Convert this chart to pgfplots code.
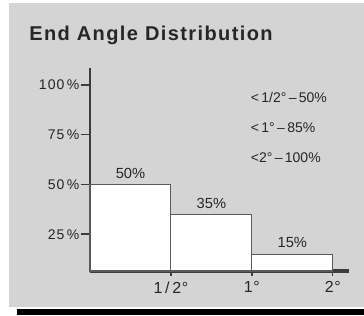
\documentclass[border=0pt]{standalone}
\usepackage{fontspec}
\setmainfont{Liberation Sans}
\usepackage{pgfplots}
\pgfplotsset{compat=1.18}
\definecolor{bggray}{RGB}{212,212,212}
\definecolor{axgray}{RGB}{60,60,60}
\definecolor{bargray}{RGB}{90,90,90}
\begin{document}
\begin{tikzpicture}
\fill[white] (0pt,0pt) rectangle (273pt,236.25pt);
\fill[bggray] (6.75pt,6pt) rectangle (273pt,234pt);
\fill[black] (12.75pt,0pt) rectangle (273pt,4.5pt);
\node[anchor=west, font=\fontsize{15}{18}\selectfont\bfseries\addfontfeature{LetterSpace=7}, text=black!85] at (18.5pt,210pt) {End Angle Distribution};
\begin{axis}[
  at={(67.5pt,33pt)}, anchor=south west,
  scale only axis, width=194.25pt, height=152.25pt,
  xmin=0, xmax=3.2, ymin=6.5, ymax=108.5,
  axis x line=bottom, axis y line=left,
  x axis line style={-, line width=3pt, color=axgray},
  y axis line style={-, line width=2.2pt, color=axgray},
  xtick={1,2,3}, xticklabels={1\,/\,2°, 1°, 2°},
  ytick={25,50,75,100}, yticklabels={25\,\%,50\,\%,75\,\%,100\,\%},
  xtick align=center, ytick align=outside,
  major tick length=7pt,
  xtick style={line width=1pt, color=axgray},
  ytick style={line width=1.2pt, color=axgray},
  /pgf/number format/assume math mode=true,
  xticklabel style={font=\fontsize{12}{14}\selectfont\addfontfeature{LetterSpace=4}, text=black!85, yshift=-1pt},
  yticklabel style={font=\fontsize{10.5}{12}\selectfont\addfontfeature{LetterSpace=8}, text=black!85, xshift=2.5pt},
  clip=false,
]
\addplot[ybar interval, fill=white, draw=bargray, line width=0.8pt]
  coordinates {(0,50) (1,35) (2,15) (3,15)};
\addplot[draw=none, mark=none, nodes near coords, point meta=explicit symbolic,
  every node near coord/.append style={font=\fontsize{11}{13}\selectfont, text=black!85, anchor=south, yshift=1pt}]
  coordinates {(0.5,50) [50\%] (1.5,35) [35\%] (2.5,15) [15\%]};
\node[anchor=west, font=\fontsize{10.5}{12}\selectfont, text=black!85] at (axis cs:1.93,93.5) {<\,1/2°\,–\,50\%};
\node[anchor=west, font=\fontsize{10.5}{12}\selectfont, text=black!85] at (axis cs:1.93,78.4) {<\,1°\,–\,85\%};
\node[anchor=west, font=\fontsize{10.5}{12}\selectfont, text=black!85] at (axis cs:1.93,63.3) {<2°\,–\,100\%};
\end{axis}
\end{tikzpicture}
\end{document}
